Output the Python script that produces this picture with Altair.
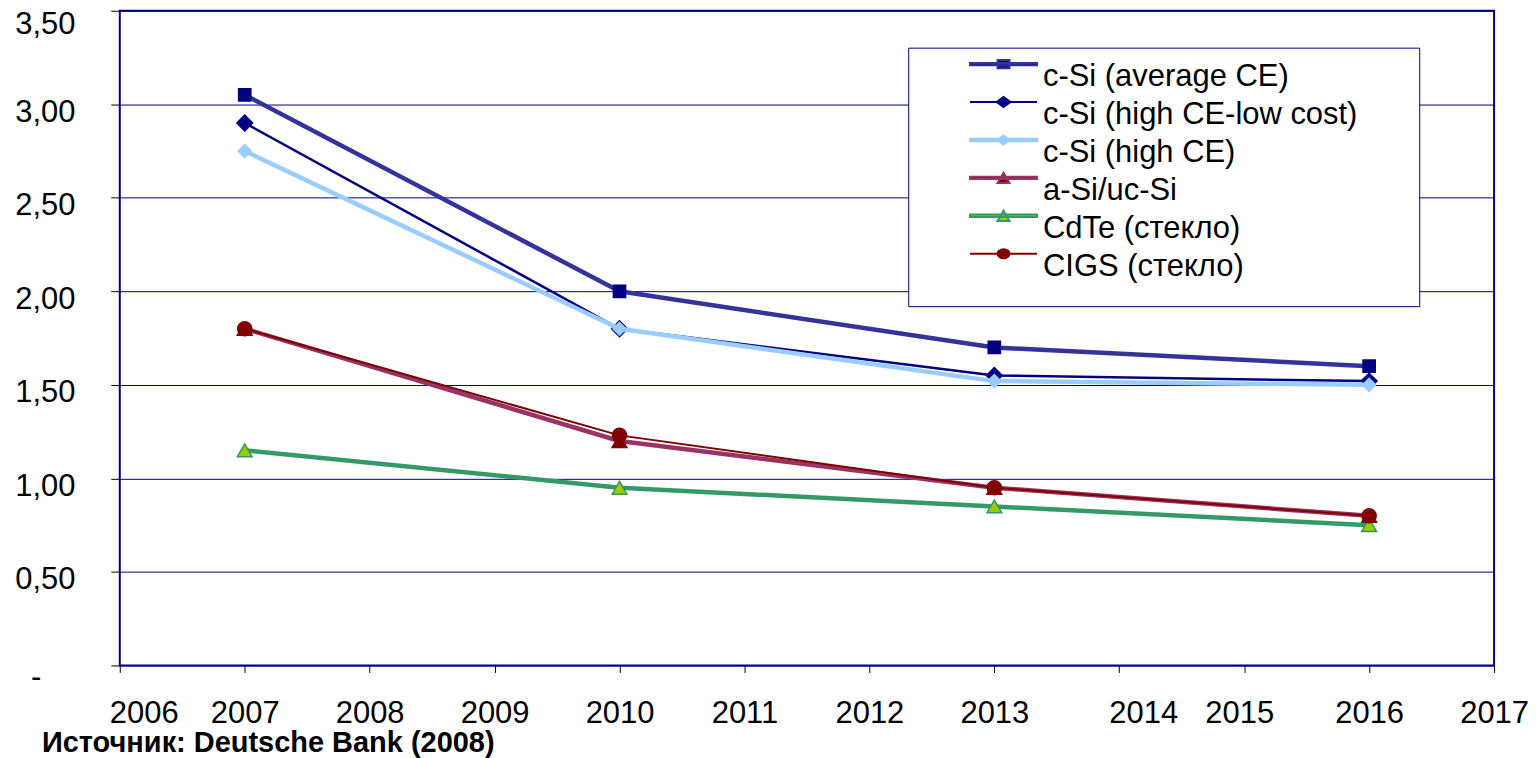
import altair as alt
import pandas as pd

# ---- data ----
years = [2007, 2010, 2013, 2016]
series = [
    "c-Si (average CE)",
    "c-Si (high CE-low cost)",
    "c-Si (high CE)",
    "a-Si/uc-Si",
    "CdTe (стекло)",
    "CIGS (стекло)",
]
csi_avg = [3.05, 2.00, 1.70, 1.60]
csi_high_low = [2.90, 1.80, 1.55, 1.52]
csi_high = [2.75, 1.80, 1.52, 1.50]
asi_ucsi = [1.80, 1.20, 0.95, 0.80]
cdte = [1.15, 0.95, 0.85, 0.75]
cigs = [1.80, 1.23, 0.95, 0.80]
all_values = [csi_avg, csi_high_low, csi_high, asi_ucsi, cdte, cigs]

x_ticks = list(range(2006, 2018))
y_ticks = [0, 0.5, 1.0, 1.5, 2.0, 2.5, 3.0, 3.5]
source_text = "Источник: Deutsche Bank (2008)"

# ---- styles ----
line_colors = ["#333399", "#000080", "#99CCFF", "#993366", "#339966", "#800000"]
line_widths = [4.5, 2.5, 4.5, 4.5, 4.5, 2]
marker_shapes = ["square", "diamond", "diamond", "triangle-up", "triangle-up", "circle"]
marker_fills = ["#000080", "#000080", "#99CCFF", "#800000", "#99CC00", "#800000"]
marker_strokes = ["#000080", "#000080", "#99CCFF", "#800000", "#339966", "#800000"]
marker_sizes = [150, 250, 170, 220, 220, 200]

# legend symbols: line + marker, drawn 13px (2.17 units of 6px) above the label centre
S = -2.17


def f(v):
    return f"{v:.2f}"


THICK = f"M-5.6,{f(S-0.2)}H5.6V{f(S+0.2)}H-5.6Z"
THIN = f"M-5.6,{f(S)}H5.6"
legend_shapes = [
    THICK + f"M-1,{f(S-0.7)}H1V{f(S+0.7)}H-1Z" + f"M66.3,{f(S)}",
    THIN + f"M-1.15,{f(S)}L0,{f(S-0.85)}L1.15,{f(S)}L0,{f(S+0.85)}Z",
    THICK + f"M-1,{f(S)}L0,{f(S-0.75)}L1,{f(S)}L0,{f(S+0.75)}Z",
    THICK + f"M-1,{f(S+0.85)}L0,{f(S-0.85)}L1,{f(S+0.85)}Z",
    THICK + f"M-1,{f(S+0.85)}L0,{f(S-0.85)}L1,{f(S+0.85)}Z",
    THIN + f"M-1,{f(S)}A1,0.75 0 1,0 1,{f(S)}A1,0.75 0 1,0 -1,{f(S)}Z" + "M0,3.45",
]

rows = []
for s, vals in zip(series, all_values):
    for yr, v in zip(years, vals):
        rows.append({"series": s, "year": yr, "value": v})
df = pd.DataFrame(rows)

FONT = "Liberation Sans"

x_enc = alt.X(
    "year:Q",
    scale=alt.Scale(domain=[2006, 2017], nice=False, zero=False),
    axis=alt.Axis(
        values=x_ticks, format="d", title=None, grid=False, domain=False,
        tickColor="black", tickSize=7, labelPadding=26, labelFontSize=31,
        labelFont=FONT, labelColor="black", labelBaseline="top", labelFlush=False,
        labelOffset={
            "condition": [
                {"test": "datum.value == 2006", "value": 24},
                {"test": "datum.value == 2014", "value": 24},
                {"test": "datum.value == 2015", "value": -5},
            ],
            "value": 0,
        },
    ),
)
y_enc = alt.Y(
    "value:Q",
    scale=alt.Scale(domain=[0, 3.5], nice=False, zero=True),
    axis=alt.Axis(
        values=y_ticks, title=None, grid=True, gridColor="#000080", gridWidth=1,
        domain=False, tickColor="black", tickSize=9,
        labelPadding={"condition": {"test": "datum.value == 0", "value": 70}, "value": 36},
        labelOffset={
            "condition": [
                {"test": "datum.value == 0", "value": 12},
                {"test": "datum.value == 3.5", "value": 14},
            ],
            "value": 8,
        },
        labelFontSize=31, labelFont=FONT, labelColor="black",
        labelExpr="datum.value == 0 ? '-' : replace(format(datum.value, '.2f'), '.', ',')",
    ),
)

base = alt.Chart(df)

layers = []
for i, s in enumerate(series):
    sub = base.transform_filter(alt.FieldEqualPredicate(field="series", equal=s))
    layers.append(
        sub.mark_line(color=line_colors[i], strokeWidth=line_widths[i], strokeJoin="round")
        .encode(x=x_enc, y=y_enc)
    )
    layers.append(
        sub.mark_point(
            shape=marker_shapes[i], filled=True, opacity=1, fill=marker_fills[i],
            stroke=marker_strokes[i], strokeWidth=1.5, size=marker_sizes[i],
        ).encode(x=x_enc, y=y_enc)
    )

legend_layer = base.transform_filter("false").mark_point(filled=True, opacity=1, strokeWidth=2).encode(
    x=x_enc,
    y=y_enc,
    shape=alt.Shape("series:N", sort=series, scale=alt.Scale(domain=series, range=legend_shapes),
                    legend=alt.Legend(title=None)),
    fill=alt.Fill("series:N", sort=series, scale=alt.Scale(domain=series, range=marker_fills),
                  legend=alt.Legend(title=None)),
    stroke=alt.Stroke("series:N", sort=series, scale=alt.Scale(domain=series, range=line_colors),
                      legend=alt.Legend(title=None)),
)
layers.append(legend_layer)

chart = (
    alt.layer(*layers)
    .properties(
        width=1377,
        height=656,
        autosize=alt.AutoSizeParams(type="none"),
        padding={"left": 112, "top": 2, "right": 36, "bottom": 98},
        title=alt.TitleParams(
            source_text, orient="bottom", anchor="start", frame="group",
            dx=-78, offset=1, fontSize=29, fontWeight="bold", font=FONT,
            color="black", baseline="top",
        ),
    )
    .configure_view(stroke="#000080", strokeWidth=2)
    .configure_legend(
        orient="none", legendX=790, legendY=37,
        strokeColor="#000080", fillColor="white", padding=14,
        labelFont=FONT, labelFontSize=31, labelColor="black", labelLimit=0,
        labelBaseline="middle", labelOffset=24, symbolSize=144, symbolOffset=66,
        rowPadding=0, symbolOpacity=1, symbolStrokeWidth=2,
    )
)

chart.save("out.html", embed_options={"renderer": "svg", "actions": False})
